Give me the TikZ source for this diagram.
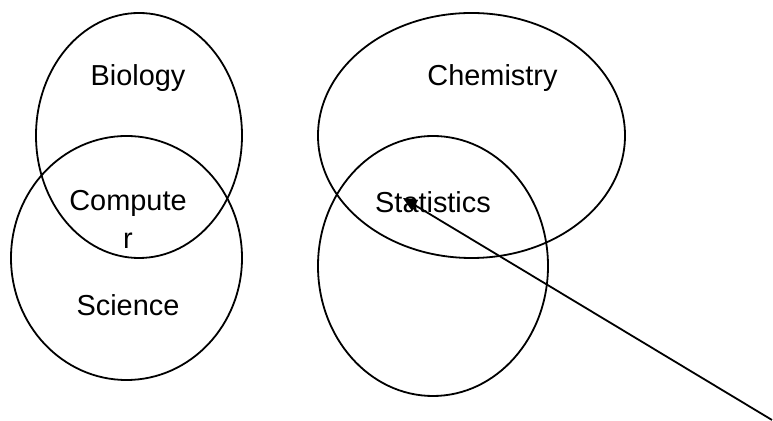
\documentclass[tikz,border=0pt]{standalone}
\usepackage{fontspec}
\setmainfont{Liberation Sans}
\usetikzlibrary{
arrows.meta,
shapes.geometric
}
\tikzset{
vennset/.style={draw=black, ellipse, line width=0.9bp, inner sep=0pt},
venntext/.style={align=center, inner sep=0pt, font=\fontsize{14.5}{19}\selectfont},
vennarrow/.style={-{Triangle[length=7bp, width=6bp]}, line width=0.9bp, draw=black}
}

\begin{document}
\begin{tikzpicture}[x=0.5bp, y=-0.5bp]
\useasboundingbox (0,0) rectangle (773,421);

% left pair
\node[vennset, minimum width=103bp, minimum height=122.5bp] (bioset) at (139,135.5) {};
\node[vennset, minimum width=115.5bp, minimum height=122bp] (sciset) at (126.5,258) {};

% right pair
\node[vennset, minimum width=153.5bp, minimum height=122.5bp] (chemset) at (471.5,135.5) {};
\node[vennset, minimum width=115bp, minimum height=130bp] (statset) at (433,266) {};

\node[venntext] (bio) at (138,78) {Biology};
\node[venntext] (comp) at (128,219) {Compute\\r};
\node[venntext] (sci) at (128,305) {Science};
\node[venntext] (chem) at (492.5,78) {Chemistry};
\node[venntext] (stat) at (433,202) {Statistics};

\coordinate (statmark) at (403,198);
\coordinate (tail) at (772,420);

\draw[vennarrow] (tail) -- (statmark);
\end{tikzpicture}
\end{document}
